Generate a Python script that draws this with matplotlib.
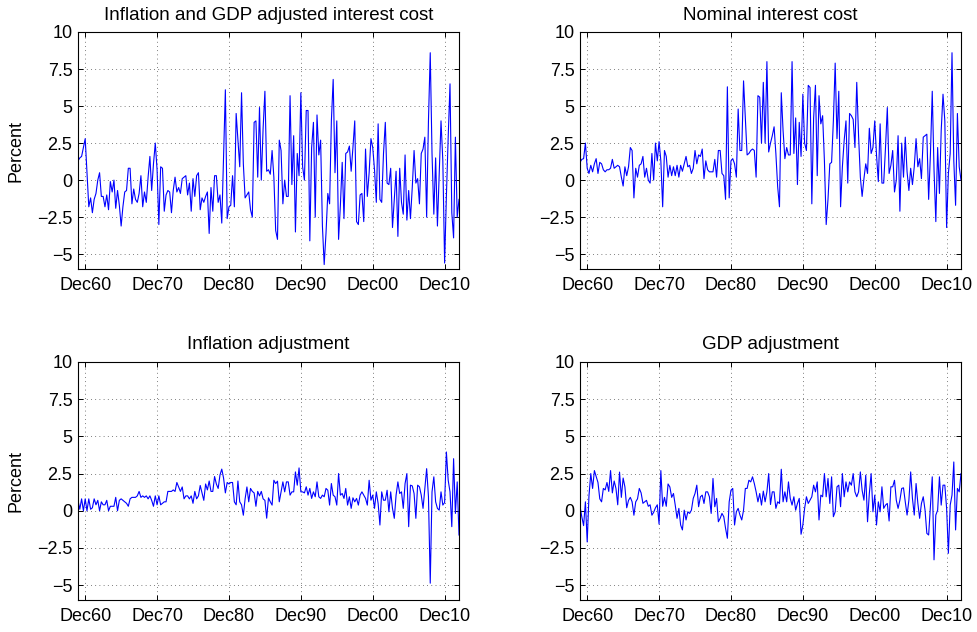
import pandas as pd
import matplotlib
matplotlib.use('Agg')
import matplotlib.pyplot as plt
import matplotlib.dates as mdates

plt.rcParams['font.family'] = ['Liberation Sans', 'DejaVu Sans']

### quarterly data, first obs Dec 1959
start_month = '1959-12-01'

### inflation and GDP adjusted interest cost (percent)
adjusted_cost = [
    1.3, 1.5, 1.6, 2.2, 2.8, 0.5, -1.8, -1.2, -2.2, -1.3,
    -0.9, 0.0, 0.5, -1.1, -1.1, -1.8, -1.0, -2.0, -0.1, -0.8,
    0.0, -1.9, -0.7, -1.7, -3.1, -1.8, -0.8, -0.7, 0.8, 0.8,
    -1.6, -0.6, -1.3, -1.5, -0.9, 0.3, -1.8, -0.8, -1.5, 0.2,
    1.6, -0.7, 1.1, 2.5, 0.7, -3.0, 0.9, 0.8, -2.1, -1.0,
    -0.7, -0.8, -2.2, -0.7, 0.2, -0.8, -0.5, -0.9, 0.1, 0.2,
    0.3, -1.0, -0.2, -2.1, 0.1, -1.1, 0.3, 0.5, -2.0, -1.2,
    -1.5, -1.1, -0.8, -3.6, -0.5, -2.1, 0.3, 0.3, -1.5, -1.0,
    -2.9, 1.5, 6.1, -2.6, -1.8, -1.7, 0.3, -1.8, 4.5, 2.7,
    0.9, 5.9, 1.1, -1.2, -1.0, -0.8, -2.0, -2.5, 3.9, 4.0,
    0.2, 4.9, 0.0, 3.5, 6.0, 0.6, 0.7, 0.4, 2.0, 0.2,
    -3.4, -4.0, 2.7, 2.0, -1.6, 0.0, -1.1, -1.1, 5.7, -0.3,
    3.0, -3.5, 1.8, 0.3, 5.9, 0.9, 0.0, 4.7, 4.7, -4.1,
    2.2, 3.9, -2.5, 4.4, 1.7, 2.7, -3.1, -5.7, -3.6, -0.9,
    -1.6, 4.0, 6.8, 0.5, 4.0, -4.0, -1.7, 1.2, -2.6, 1.8,
    1.9, 2.3, 0.6, 2.2, 4.0, -2.8, -3.0, -1.0, -0.9, -2.8,
    2.1, -1.1, 0.5, 2.8, 2.2, 0.7, -1.5, 3.8, -1.3, -1.5,
    1.8, 3.9, -0.2, -0.3, 0.8, -3.2, -1.3, 0.6, -3.8, 0.8,
    -1.5, -2.3, 1.7, -2.7, -0.7, -2.6, -0.5, 2.0, -0.2, 0.1,
    -1.6, 1.8, 2.1, 2.9, -2.5, 4.0, 8.6, 1.8, -2.3, 1.5,
    -3.1, 0.5, 4.0, 1.3, -5.6, -1.1, 2.9, 6.5, -2.2, -3.9,
    2.9, -2.5, -1.3]

### nominal interest cost (percent)
nominal_cost = [
    1.2, 1.4, 1.45, 2.5, 0.8, 0.45, 1.0, 0.56, 1.1, 1.45,
    0.45, 1.2, 1.1, 0.7, 0.56, 0.7, 0.7, 0.8, 1.4, 0.8,
    0.9, 1.0, 0.9, 0.2, -0.4, 0.9, 0.3, 0.9, 2.2, 2.0,
    -1.2, 0.8, 0.2, 1.0, 1.1, 1.6, 0.2, 0.8, 0.0, -0.2,
    1.8, 0.0, 2.5, 1.3, 2.6, 1.3, -1.8, 2.0, 1.6, 0.2,
    1.0, 0.3, 0.9, 0.3, 1.0, 0.2, 1.0, 0.6, 1.1, 1.6,
    0.9, 1.0, 0.45, 0.8, 2.0, 1.1, 1.7, 1.6, 2.1, 0.1,
    1.3, 0.7, 0.56, 0.56, 0.56, 1.4, 0.2, 2.0, 2.0, 0.45,
    0.3, -1.3, 6.3, -1.2, 1.3, 1.45, 1.1, 0.2, 4.8, 2.0,
    2.0, 6.7, 4.2, 1.7, 1.8, 2.0, 2.1, 2.0, 0.2, 5.7,
    5.6, 2.5, 6.6, 2.5, 8.0, 1.9, 2.5, 3.0, 3.6, 1.8,
    -0.45, -1.8, 5.9, 3.35, 1.45, 2.2, 1.7, 1.7, 8.0, 1.8,
    4.2, -0.3, 3.9, 1.6, 5.8, 2.5, 2.0, 6.4, 6.25, -1.6,
    4.2, 6.4, 0.3, 5.7, 3.8, 4.35, 1.3, -3.0, -1.3, 1.1,
    1.2, 4.0, 7.9, 2.8, 6.0, -1.8, 0.9, 2.7, 4.0, -0.2,
    4.5, 4.35, 4.1, 2.2, 6.6, 3.0, 0.2, -1.1, 0.1, 1.1,
    0.45, 3.5, 1.8, 2.2, 4.0, 1.7, -0.1, 3.8, -0.2, -0.2,
    2.2, 4.9, 0.45, 1.0, 2.0, -0.8, 0.0, 3.0, -2.1, 2.5,
    0.2, 2.9, 0.56, -0.7, 0.8, -0.3, 0.9, 2.8, 0.9, 1.45,
    0.1, 2.9, 3.0, 3.1, -1.3, 1.8, 6.0, 0.7, -2.8, 2.2,
    -0.9, 3.35, 5.8, 4.0, -3.2, 0.45, 1.8, 8.6, 1.3, -1.7,
    4.5, 0.9, 0.0]

### inflation adjustment (percent)
inflation_adj = [
    0.7, 0.1, 0.8, 0.0, 0.8, 0.0, 0.8, 0.1, 0.2, 0.8,
    0.4, 0.7, 0.0, 0.6, 0.4, 0.4, 0.7, 0.0, 0.3, 0.3,
    0.3, 0.9, 0.0, 0.7, 0.8, 0.7, 0.6, 0.5, 0.3, 0.8,
    0.9, 0.9, 0.9, 1.0, 1.3, 0.9, 1.0, 0.9, 1.0, 0.8,
    1.0, 0.7, 0.3, 1.0, 0.4, 1.0, 0.4, 0.5, 0.6, 0.6,
    1.3, 1.3, 1.3, 1.4, 1.3, 1.9, 1.6, 1.3, 1.6, 0.8,
    1.0, 1.0, 0.8, 1.0, 0.5, 1.3, 0.8, 1.0, 1.7, 1.2,
    0.7, 1.8, 1.4, 2.0, 1.3, 1.3, 2.3, 1.8, 1.5, 2.4,
    2.8, 2.2, 1.2, 1.9, 1.8, 1.9, 1.9, 0.6, 0.4, 2.0,
    0.6, 0.4, -0.3, 0.8, 1.6, 0.6, 1.5, 1.3, 1.2, 0.3,
    1.3, 1.0, 1.3, 0.8, 0.7, -0.5, 0.87, 0.6, 0.38, 2.05,
    1.83, 1.99, 0.6, 1.27, 1.94, 1.27, 1.94, 1.94, 1.05, 1.27,
    1.27, 2.61, 1.72, 2.88, 1.27, 1.27, 1.2, 1.61, 1.05, 1.5,
    0.83, 1.27, 0.94, 1.94, 0.94, 0.83, 1.05, 0.94, 1.5, 1.38,
    0.38, 1.83, 1.05, 0.94, 0.38, 2.5, 1.05, 1.16, 0.83, 1.5,
    0.38, 0.94, 0.16, 0.87, 0.6, 0.83, 0.38, 1.05, 1.27, 1.05,
    0.83, 0.38, 2.05, 0.71, 1.05, 0.16, 1.27, 0.49, -0.96, 1.27,
    0.71, 0.71, 1.38, -0.07, 1.27, 0.16, -0.51, 1.05, 1.94, 1.16,
    1.27, 0.16, 1.83, 2.5, -1.07, 1.72, 1.67, 1.16, -0.51, 1.72,
    1.61, 1.05, 0.16, 1.5, 2.83, 0.94, -4.87, 1.27, 2.28, 0.6,
    0.16, 0.04, 1.27, 0.38, 0.55, 3.95, 2.05, 1.27, -1.07, 3.5,
    -0.18, 1.94, -1.63]

### GDP adjustment (percent)
gdp_adj = [
    0.3, -0.4, -1.0, 0.6, -2.1, 1.0, 2.5, 1.5, 2.7, 2.3,
    1.9, 0.8, 0.6, 1.5, 1.4, 1.9, 1.3, 2.7, 1.2, 2.0,
    1.5, 0.4, 2.6, 0.9, 2.2, 1.6, 0.2, 0.7, 0.9, 0.6,
    -0.3, 0.6, 0.8, 1.5, 1.2, 0.5, 0.6, 0.7, 0.3, 0.4,
    -0.3, -0.1, 0.2, 0.4, -0.9, 2.7, 0.3, 0.9, 0.3, 1.8,
    1.6, 0.9, 1.16, 0.38, -0.51, 0.16, -0.96, -1.29, 0.04, -0.62,
    -0.07, -0.18, 0.04, 0.83, 1.16, 1.72, 0.27, 0.94, 1.05, 0.49,
    1.27, 1.27, 0.94, -0.18, 2.17, 0.27, 0.83, -0.74, -0.51, -0.18,
    -0.4, -1.18, -1.85, 0.6, 1.38, 1.5, -0.96, -0.07, 0.16, -0.29,
    -0.62, 0.04, 1.5, 1.5, 2.05, 1.94, 2.28, 1.83, 1.27, 0.6,
    1.16, 0.38, 1.32, 0.6, 1.27, 2.5, 0.42, 1.27, 1.27, 0.16,
    0.6, 0.49, 2.79, 0.6, 1.27, 0.6, 1.94, 0.83, 0.38, 0.94,
    0.04, 0.49, 0.83, -1.58, -0.96, 0.16, 0.94, 0.49, 0.71, 0.94,
    1.72, 1.27, 1.94, -0.62, 1.05, 0.94, 2.5, 0.94, 2.17, 0.49,
    2.28, -0.4, -0.07, 1.61, 1.72, 0.27, 2.5, 0.94, 1.94, 1.27,
    1.94, 1.72, 2.5, 1.27, 0.94, 1.27, 2.61, 1.38, 0.71, 2.39,
    -0.74, 1.16, 2.5, -0.07, 1.05, -0.96, 0.6, -0.07, 1.61, 0.16,
    0.38, 0.49, -0.69, 1.61, 1.61, 2.05, 0.71, 0.16, 0.71, 1.5,
    1.54, 0.6, -0.29, 0.71, 2.61, 0.83, -0.29, 1.83, 0.49, -0.51,
    0.49, 0.94, 0.04, -1.52, -1.63, 0.38, 2.28, -3.3, -0.29, 0.04,
    2.28, 0.38, 1.72, 1.72, 0.16, -2.86, 0.38, 1.05, 3.28, -1.29,
    1.5, 1.27, 2.5]

titles = ['Inflation and GDP adjusted interest cost', 'Nominal interest cost',
          'Inflation adjustment', 'GDP adjustment']
tick_years = [1960, 1970, 1980, 1990, 2000, 2010]
y_ticks = [-5, -2.5, 0, 2.5, 5, 7.5, 10]


def draw_panel(ax, vals, title, ylabel=None):
    dates = pd.date_range(start_month, periods=len(vals), freq='3MS')
    ax.plot(dates, vals, c='blue', lw=0.8)
    ax.set_xlim(dates[0], dates[-1])
    ax.set_ylim(-6, 10)
    ax.set_xticks([pd.Timestamp(y, 12, 1) for y in tick_years])
    ax.xaxis.set_major_formatter(mdates.DateFormatter('%b%y'))
    ax.set_yticks(y_ticks)
    ax.set_yticklabels(['%g' % t if t >= 0 else '\u2212%g' % -t for t in y_ticks])
    ## sparse dotted grid
    ax.grid(True, color='0.2', linestyle=(0, (1, 4.5)), lw=0.55)
    ax.tick_params(direction='in', top=True, right=True, length=3.5,
                   width=0.7, labelsize=13)
    ax.tick_params(axis='x', pad=6)
    ax.tick_params(axis='y', pad=4)
    for s in ax.spines.values():
        s.set_linewidth(0.8)
    ax.set_title(title, fontsize=13.5, pad=9)
    if ylabel:
        ax.set_ylabel(ylabel, fontsize=13, labelpad=9)


fig = plt.figure(figsize=(9.77, 6.32), dpi=100)
W, H = 977.0, 632.0
### axes boxes in pixels: left, top, right, bottom
boxes = [(78, 32, 459, 269), (580, 32, 961, 269),
         (78, 362, 459, 600), (580, 362, 961, 600)]
series = [adjusted_cost, nominal_cost, inflation_adj, gdp_adj]

for i in range(4):
    l, t, r, b = boxes[i]
    ax = fig.add_axes([l / W, 1 - b / H, (r - l) / W, (b - t) / H])
    draw_panel(ax, series[i], titles[i], 'Percent' if i % 2 == 0 else None)

fig.savefig('out.png', dpi=100)
